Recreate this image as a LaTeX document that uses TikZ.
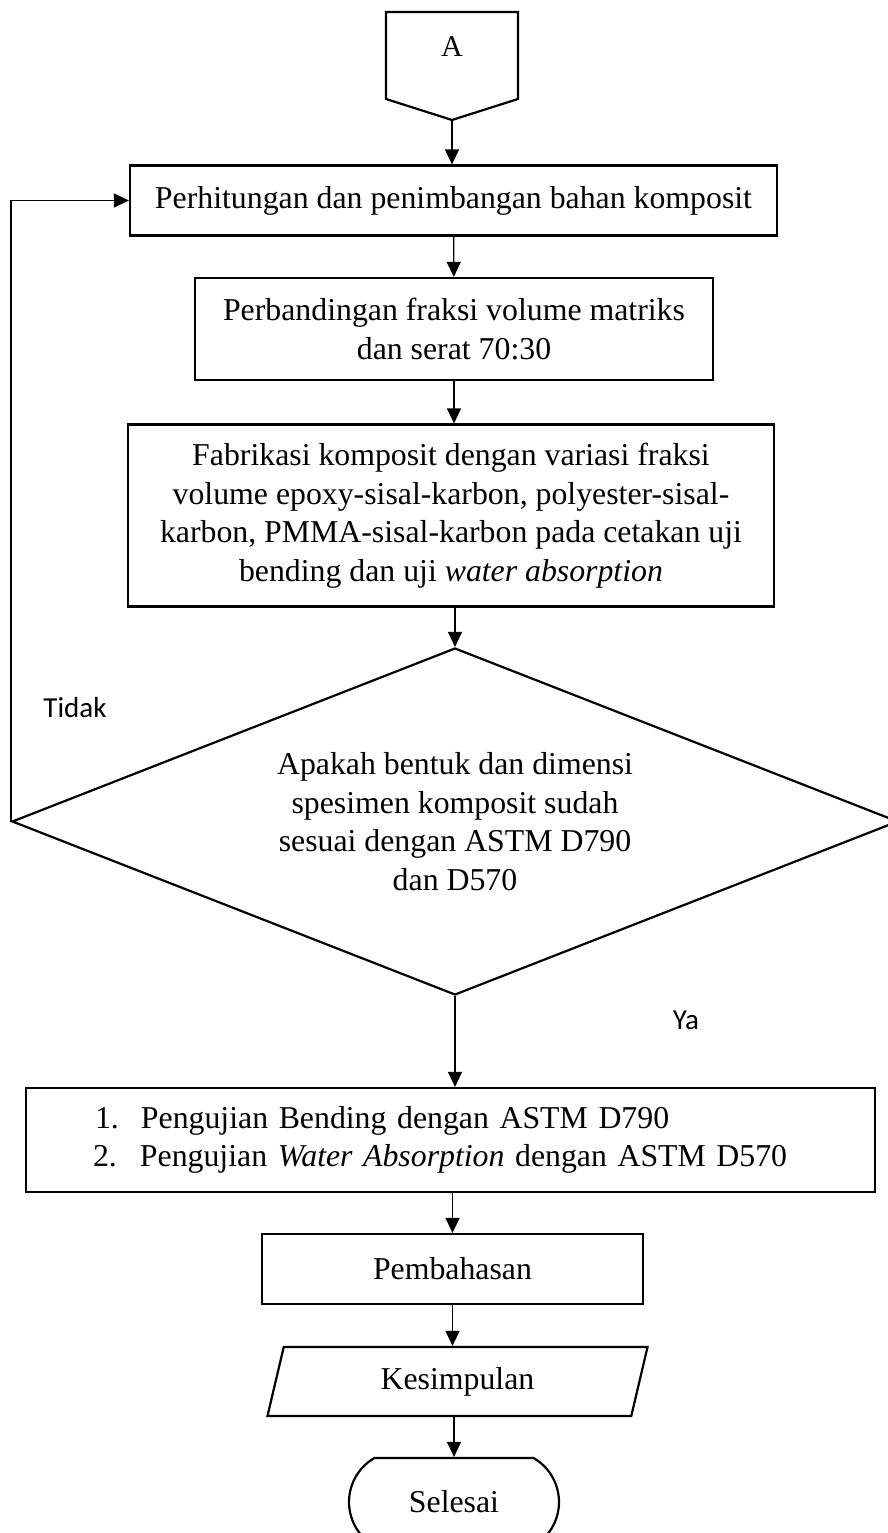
\documentclass[tikz,border=0pt]{standalone}
\usepackage{fontspec}
\setmainfont{Liberation Serif}
\newfontfamily\lblfont{Carlito}
\usetikzlibrary{shapes.geometric,shapes.misc,arrows.meta}

\begin{document}
\begin{tikzpicture}[x=1pt,y=-1pt,
  box/.style={draw, line width=2.2pt, inner sep=0pt, align=center, font=\fontsize{31.8}{38.5}\selectfont},
  arr/.style={-{Triangle[length=15pt,width=14pt]}, line width=1.3pt},
  lbl/.style={font=\lblfont\fontsize{29}{34}\selectfont}]
\useasboundingbox (0,0) rectangle (888,1533);
% penghubung A
\draw[line width=2.2pt] (386,12) -- (518,12) -- (518,99) -- (452,120) -- (386,99) -- cycle;
\node[font=\fontsize{30}{36}\selectfont] (fcA) at (452,47){A};
\coordinate (fc0) at (452,120);
\node[box, minimum width=647pt, minimum height=70pt] (fc1) at (453.5,200.5){Perhitungan dan penimbangan bahan komposit};
\node[box, minimum width=518pt, minimum height=102pt] (fc2) at (454,329){Perbandingan fraksi volume matriks\\ dan serat 70:30};
\node[box, minimum width=646pt, minimum height=182pt] (fc3) at (451,515.5){Fabrikasi komposit dengan variasi fraksi\\ volume epoxy-sisal-karbon, polyester-sisal-\\ karbon, PMMA-sisal-karbon pada cetakan uji\\ bending dan uji \textit{water absorption}};
\node[box, diamond, aspect=2.55, minimum width=886pt, minimum height=347pt] (fc4) at (455,821.5){Apakah bentuk dan dimensi\\ spesimen komposit sudah\\ sesuai dengan ASTM D790\\ dan D570};
\node[box, minimum width=849pt, minimum height=104pt, text width=849pt, align=left] (fc5) at (450.5,1140){\hspace*{69pt}\makebox[46pt][l]{1.}Pengujian Bending dengan ASTM D790\\ \hspace*{67pt}\makebox[47pt][l]{2.}Pengujian \textit{Water Absorption} dengan ASTM D570};
\node[box, minimum width=381pt, minimum height=70pt] (fc6) at (452.5,1269){Pembahasan};
\node[box, trapezium, trapezium left angle=76, trapezium right angle=104, trapezium stretches=true, minimum width=381pt, minimum height=69pt] (fc7) at (457.5,1381.5){Kesimpulan};
\node[box, rounded rectangle, rounded rectangle arc length=120, minimum width=210pt, minimum height=88pt] (fc8) at (454,1502){Selesai};
\node[lbl] (tidak) at (75,708){Tidak};
\node[lbl] (ya) at (686,1020){Ya};
\draw[arr] (fc0) -- (fc0 |- fc1.north);
\draw[arr] (fc1) -- (fc2);
\draw[arr] (fc2.south) -- (fc2.south |- fc3.north);
\draw[arr] (fc4.north |- fc3.south) -- (fc4.north);
\draw[arr] (fc4.south) -- (fc4.south |- fc5.north);
\draw[arr] (fc6.north |- fc5.south) -- (fc6.north);
\draw[arr] (fc6.south) -- (fc6.south |- fc7.north);
\draw[arr] (fc8.north |- fc7.south) -- (fc8.north);
\draw[arr] (fc4.west) |- (fc1.west);
\end{tikzpicture}
\end{document}
